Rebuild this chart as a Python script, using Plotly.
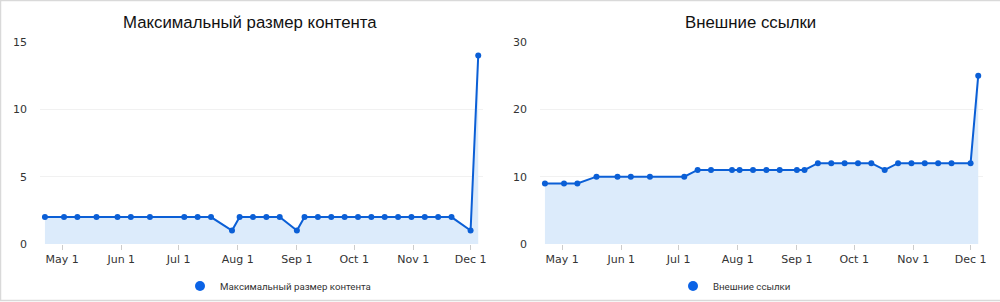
import plotly.graph_objects as go

dates = ["2022-04-22", "2022-05-02", "2022-05-09", "2022-05-19", "2022-05-30",
         "2022-06-06", "2022-06-16", "2022-07-04", "2022-07-11", "2022-07-18",
         "2022-07-29", "2022-08-02", "2022-08-09", "2022-08-16", "2022-08-23",
         "2022-09-01", "2022-09-05", "2022-09-12", "2022-09-19", "2022-09-26",
         "2022-10-03", "2022-10-10", "2022-10-17", "2022-10-24", "2022-10-31",
         "2022-11-07", "2022-11-14", "2022-11-21", "2022-12-01", "2022-12-05"]

content_max = [2, 2, 2, 2, 2, 2, 2, 2, 2, 2,
               1, 2, 2, 2, 2, 1, 2, 2, 2, 2,
               2, 2, 2, 2, 2, 2, 2, 2, 1, 14]

external_links = [9, 9, 9, 10, 10, 10, 10, 10, 11, 11,
                  11, 11, 11, 11, 11, 11, 11, 12, 12, 12,
                  12, 12, 11, 12, 12, 12, 12, 12, 12, 25]

titles = ["Максимальный размер контента", "Внешние ссылки"]
y_ranges = [[0, 15], [0, 30]]
y_dticks = [5, 10]

LINE = "#0b5fd6"
FILL = "#dcebfb"
TICKFONT = dict(family="DejaVu Sans", size=11, color="#333333")
LEGFONT = dict(family="Roboto", size=9.7, color="#333333")

fig = go.Figure()

series = [content_max, external_links]
for i, (vals, title) in enumerate(zip(series, titles)):
    xa = "x" if i == 0 else "x2"
    ya = "y" if i == 0 else "y2"
    lg = "legend" if i == 0 else "legend2"
    fig.add_trace(go.Scatter(
        x=dates, y=vals, mode="lines+markers", fill="tozeroy",
        fillcolor=FILL, line=dict(color=LINE, width=2),
        marker=dict(size=6, color=LINE), showlegend=False,
        xaxis=xa, yaxis=ya, name=title, hoverinfo="x+y"))
    fig.add_trace(go.Scatter(
        x=[None], y=[None], mode="markers", name=title,
        marker=dict(size=10, color="#0b63e6"), xaxis=xa, yaxis=ya,
        legend=lg, showlegend=True))

xcommon = dict(
    type="date", range=["2022-04-19 10:00", "2022-12-07 12:00"],
    dtick="M1", tick0="2022-05-01", tickformat="%b %-d",
    showgrid=False, zeroline=False, showline=False,
    ticks="outside", ticklen=5, tickcolor="#cccccc", tickwidth=1,
    tickfont=TICKFONT, fixedrange=True, automargin=False)

ycommon = dict(
    showgrid=True, gridcolor="#f1f1f1", gridwidth=1, zeroline=False,
    showline=False, ticks="", tickfont=TICKFONT, ticklabelstandoff=12,
    fixedrange=True, automargin=False)

fig.update_layout(
    width=1000, height=302,
    margin=dict(l=0, r=0, t=0, b=0, autoexpand=False),
    paper_bgcolor="white", plot_bgcolor="white",
    xaxis=dict(domain=[0.040, 0.483], anchor="y", **xcommon),
    xaxis2=dict(domain=[0.540, 0.983], anchor="y2", **xcommon),
    yaxis=dict(domain=[1 - 244 / 302, 1 - 42 / 302], anchor="x", range=y_ranges[0],
               dtick=y_dticks[0], **ycommon),
    yaxis2=dict(domain=[1 - 244 / 302, 1 - 42 / 302], anchor="x2", range=y_ranges[1],
                dtick=y_dticks[1], **ycommon),
    legend=dict(x=0.180, y=1 - 286 / 302, xanchor="left", yanchor="middle",
                orientation="h", font=LEGFONT, bgcolor="rgba(0,0,0,0)"),
    legend2=dict(x=0.673, y=1 - 286 / 302, xanchor="left", yanchor="middle",
                 orientation="h", font=LEGFONT, bgcolor="rgba(0,0,0,0)"),
    showlegend=True,
)

for i, title in enumerate(titles):
    fig.add_annotation(text=title, x=0.25 + 0.5 * i, y=1 - 22 / 302,
                       xref="paper", yref="paper", showarrow=False,
                       xanchor="center", yanchor="middle",
                       font=dict(family="Liberation Sans", size=16.8, color="#111111"))

fig.add_shape(type="rect", xref="paper", yref="paper",
              x0=0.0005, x1=1.01, y0=1 - 300.5 / 302, y1=1 - 0.5 / 302,
              line=dict(color="#d9d9d9", width=1.5), fillcolor="rgba(0,0,0,0)",
              layer="above")

fig.write_html("out.html")
